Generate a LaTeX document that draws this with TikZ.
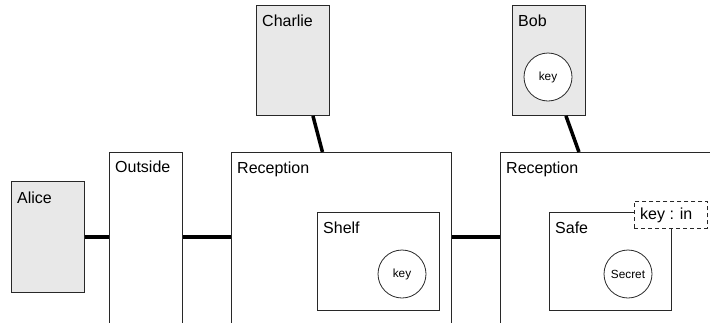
\documentclass[tikz,border=0pt]{standalone}
\usepackage{fontspec}
\setmainfont{Liberation Sans}
\definecolor{agentgray}{RGB}{232,232,232}
\definecolor{edgegray}{RGB}{40,40,40}

\begin{document}
\begin{tikzpicture}[x=1pt, y=-1pt,
  roombox/.style={draw=edgegray, line width=0.9pt, anchor=north west, inner sep=0pt},
  agentbox/.style={roombox, fill=agentgray},
  itemnode/.style={draw=edgegray, circle, fill=white, line width=0.8pt, minimum size=48pt, inner sep=0pt, font=\fontsize{11.8}{13}\selectfont},
  boxlabel/.style={anchor=base west, inner sep=0pt, font=\fontsize{16}{18}\selectfont},
  link/.style={line width=3.5pt}]
\clip (0,0) rectangle (710,322);
% Agents
\node[agentbox, minimum width=73pt, minimum height=111pt] (alice) at (11,181) {};
\node[boxlabel] at ([xshift=6pt,yshift=-22pt]alice.north west) {Alice};
\node[agentbox, minimum width=73pt, minimum height=110pt] (charlie) at (256,5) {};
\node[boxlabel] at ([xshift=6pt,yshift=-21pt]charlie.north west) {Charlie};
\node[agentbox, minimum width=73pt, minimum height=110pt] (bob) at (512,5) {};
\node[boxlabel] at ([xshift=6pt,yshift=-21pt]bob.north west) {Bob};
\node[itemnode] (bobkey) at (548,77) {key};
% Rooms
\node[roombox, minimum width=73pt, minimum height=200pt] (outside) at (109,152) {};
\node[boxlabel] at ([xshift=6pt,yshift=-20pt]outside.north west) {Outside};
\node[roombox, minimum width=220pt, minimum height=200pt] (rec1) at (231,152) {};
\node[boxlabel] at ([xshift=6pt,yshift=-21pt]rec1.north west) {Reception};
\node[roombox, minimum width=240pt, minimum height=200pt] (rec2) at (500,152) {};
\node[boxlabel] at ([xshift=6pt,yshift=-21pt]rec2.north west) {Reception};
% Containers
\node[roombox, minimum width=122pt, minimum height=98pt] (shelf) at (317,212) {};
\node[boxlabel] at ([xshift=6pt,yshift=-21pt]shelf.north west) {Shelf};
\node[itemnode] (shelfkey) at (402,274) {key};
\node[roombox, minimum width=122pt, minimum height=98pt] (safe) at (549,212) {};
\node[boxlabel] at ([xshift=6pt,yshift=-21pt]safe.north west) {Safe};
\node[itemnode] (secret) at (628,274) {Secret};
\node[roombox, fill=white, dash pattern=on 4pt off 3pt, minimum width=73pt, minimum height=27pt] (lock) at (634,201) {};
\node[anchor=west, inner sep=0pt, font=\fontsize{16}{18}\selectfont] at ([xshift=6pt]lock.west) {key : in};
% Connections
\draw[link] (alice.east) -- (alice.east -| outside.west);
\draw[link] (outside.east |- alice.east) -- (rec1.west |- alice.east);
\draw[link] (rec1.east |- alice.east) -- (rec2.west |- alice.east);
\draw[link] ([xshift=20pt]charlie.south) -- ([xshift=-19pt]rec1.north);
\draw[link] ([xshift=17pt]bob.south) -- ([xshift=30pt]bob.south |- rec2.north);
\end{tikzpicture}
\end{document}
